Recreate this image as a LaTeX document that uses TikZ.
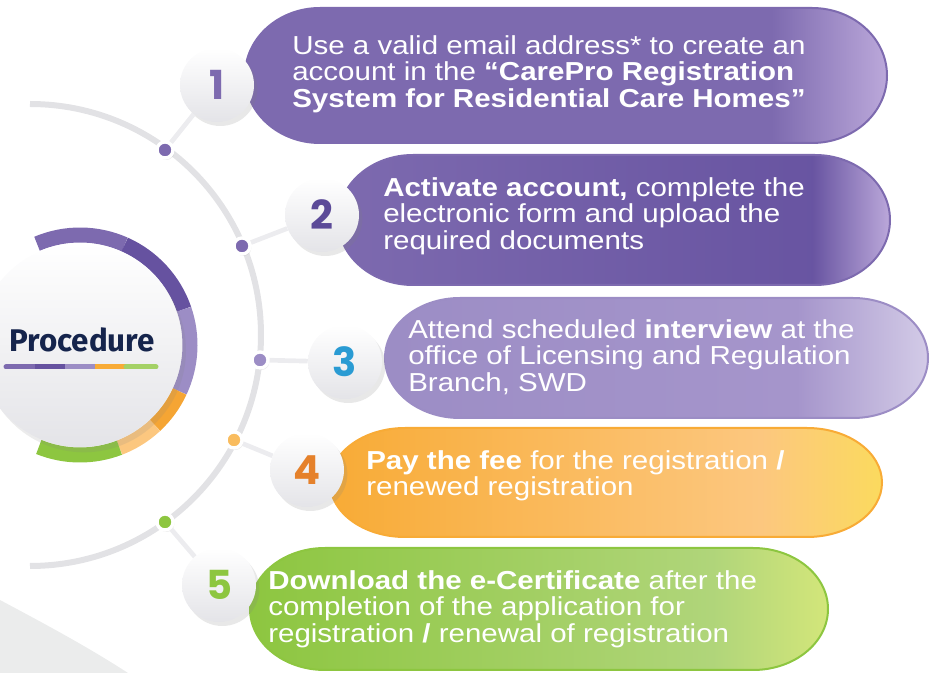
\documentclass[tikz,border=0pt]{standalone}
\usepackage{fontspec}
\usetikzlibrary{shadows}

\newfontfamily\pillfont[FakeStretch=1.135]{Liberation Sans}
\newfontfamily\numfont{Poppins}
\newfontfamily\headfont{Fira Sans}

\definecolor{purA}{HTML}{7D6AAF}
\definecolor{purB}{HTML}{6652A0}
\definecolor{purC}{HTML}{9C8DC5}
\definecolor{lavA}{HTML}{BBA8DA}
\definecolor{lavC}{HTML}{D3CBE7}
\definecolor{orgA}{HTML}{F8AB36}
\definecolor{orgB}{HTML}{FCC77F}
\definecolor{orgC}{HTML}{FBDA5E}
\definecolor{grnA}{HTML}{8DC640}
\definecolor{grnB}{HTML}{B0D57A}
\definecolor{grnC}{HTML}{D3E67A}
\definecolor{navy}{HTML}{15244C}
\definecolor{numtwo}{HTML}{5B4A98}
\definecolor{numthree}{HTML}{2A9BD3}
\definecolor{numfour}{HTML}{E5812B}
\definecolor{arcgray}{HTML}{E2E2E5}
\definecolor{linkgray}{HTML}{ECECEF}
\definecolor{ballgray}{HTML}{E4E4E8}
\definecolor{bggray}{HTML}{EBECEC}

\pgfdeclarehorizontalshading{pillone}{100bp}{color(0bp)=(purA); color(25bp)=(purA); color(66bp)=(purA); color(75bp)=(lavA); color(100bp)=(lavA)}
\pgfdeclarehorizontalshading{pilltwo}{100bp}{color(0bp)=(purA); color(25bp)=(purA); color(62bp)=(purB!80!purA); color(68bp)=(purB!90!purA); color(75bp)=(lavA); color(100bp)=(lavA)}
\pgfdeclarehorizontalshading{pillthree}{100bp}{color(0bp)=(purC); color(25bp)=(purC); color(63bp)=(purC!70!lavA); color(75bp)=(lavC); color(100bp)=(lavC)}
\pgfdeclarehorizontalshading{pillfour}{100bp}{color(0bp)=(orgA); color(25bp)=(orgA); color(64bp)=(orgB); color(75bp)=(orgC); color(100bp)=(orgC)}
\pgfdeclarehorizontalshading{pillfive}{100bp}{color(0bp)=(grnA); color(25bp)=(grnA); color(65bp)=(grnB); color(75bp)=(grnC); color(100bp)=(grnC)}

\tikzset{
  numc/.style={circle, minimum size=55.5pt, inner sep=0pt, top color=white, bottom color=ballgray,
    drop shadow={opacity=.18, shadow xshift=2.5pt, shadow yshift=-3pt},
    font=\numfont\bfseries\fontsize{30pt}{30pt}\selectfont},
  dotc/.style={circle, minimum size=12pt, inner sep=0pt, draw=white, line width=2.5pt,
    drop shadow={opacity=.15, shadow xshift=1pt, shadow yshift=-1.5pt}},
  pilltxt/.style={anchor=west, inner sep=0pt, align=left, text=white,
    font=\pillfont\fontsize{19.5pt}{19.9pt}\selectfont},
  link/.style={draw=linkgray, line width=3.5pt},
  ring/.style={line width=11.25pt},
  bar/.style={line width=3.75pt},
}

\begin{document}
\begin{tikzpicture}[x=0.75pt,y=0.75pt,yscale=-1,xscale=1]
\useasboundingbox (0,0) rectangle (933,673);

%Background corner
\fill[bggray] (0,600) .. controls (45,624) and (88,647) .. (128,673) -- (0,673) -- cycle;
%Gray arc
\draw[arcgray, line width=4.5pt] (30,104) arc (-90:90:231);

%Pills
\shadedraw[shading=pillone, draw=purA, line width=1.5pt] (320,8) -- (812,8) arc (-90:90:75 and 67.5) -- (320,143) arc (90:270:75 and 67.5) -- cycle;
\shadedraw[shading=pilltwo, draw=purA, line width=1.5pt] (413,155) -- (815,155) arc (-90:90:75 and 65) -- (413,285) arc (90:270:75 and 65) -- cycle;
\shadedraw[shading=pillthree, draw=purC, line width=1.5pt] (460,298) -- (853,298) arc (-90:90:75 and 60) -- (460,418) arc (90:270:75 and 60) -- cycle;
\shadedraw[shading=pillfour, draw=orgA, line width=1.5pt] (405,428) -- (807,428) arc (-90:90:75 and 54.5) -- (405,537) arc (90:270:75 and 54.5) -- cycle;
\shadedraw[shading=pillfive, draw=grnA, line width=1.5pt] (325,548) -- (753,548) arc (-90:90:75 and 61) -- (325,670) arc (90:270:75 and 61) -- cycle;

%Ring round the procedure circle
\draw[ring, purA] (80,345) ++(-113:110) arc (-113:-66:110);
\draw[ring, purB] (80,345) ++(-66:110) arc (-66:-19:110);
\draw[ring, purC] (80,345) ++(-19:110) arc (-19:25:110);
\draw[ring, orgA!85!numfour] (80,345) ++(25:110) arc (25:47:110);
\draw[ring, orgB] (80,345) ++(47:110) arc (47:69:110);
\draw[ring, grnA] (80,345) ++(69:110) arc (69:112:110);

%Procedure circle
\draw (80,345) node (pcirc) [circle, minimum size=153pt, inner sep=0pt, top color=white, bottom color=ballgray,
  drop shadow={opacity=.15, shadow xshift=3pt, shadow yshift=-4pt}] {};
% Text Node
\draw (82,340) node (proc) [inner sep=0pt, text=navy, font=\headfont\bfseries\fontsize{23.5pt}{23.5pt}\selectfont] {Procedure};
\draw[bar, purA, line cap=round] (6,367) -- (35,367);
\draw[bar, purB] (35,367) -- (65,367);
\draw[bar, purC] (65,367) -- (95,367);
\draw[bar, orgA] (95,367) -- (126,367);
\draw[bar, grnA!80!white, line cap=round] (126,367) -- (156,367);

%Dots on the arc
\draw (165,150) node (d1) [dotc, fill=purA] {};
\draw (242,246) node (d2) [dotc, fill=purA] {};
\draw (260,360) node (d3) [dotc, fill=purC] {};
\draw (234,440) node (d4) [dotc, fill=orgA!80!white] {};
\draw (165,522) node (d5) [dotc, fill=grnA] {};

%Number circles
\draw (217,85) node (n1) [numc, text=purA] {1};
\draw (322,215) node (n2) [numc, text=numtwo] {2};
\draw (345,362) node (n3) [numc, text=numthree] {3};
\draw (307,470) node (n4) [numc, text=numfour] {4};
\draw (219,585) node (n5) [numc, text=grnA] {5};

%Links
\draw[link] (d1) -- (n1);
\draw[link] (d2) -- (n2);
\draw[link] (d3) -- (n3);
\draw[link] (d4) -- (n4);
\draw[link] (d5) -- (n5);

% Text Node
\draw (292,74) node (t1) [pilltxt] {Use a valid email address* to create an\\account in the \textbf{“CarePro Registration}\\\textbf{System for Residential Care Homes”}};
% Text Node
\draw (383,216) node (t2) [pilltxt] {\textbf{Activate account,} complete the\\electronic form and upload the\\required documents};
% Text Node
\draw (408,357) node (t3) [pilltxt] {Attend scheduled \textbf{interview} at the\\office of Licensing and Regulation\\Branch, SWD};
% Text Node
\draw (366,476) node (t4) [pilltxt] {\textbf{Pay the fee} for the registration \textbf{/}\\renewed registration};
% Text Node
\draw (268,609) node (t5) [pilltxt] {\textbf{Download the e-Certificate} after the\\completion of the application for\\registration \textbf{/} renewal of registration};

\end{tikzpicture}
\end{document}
